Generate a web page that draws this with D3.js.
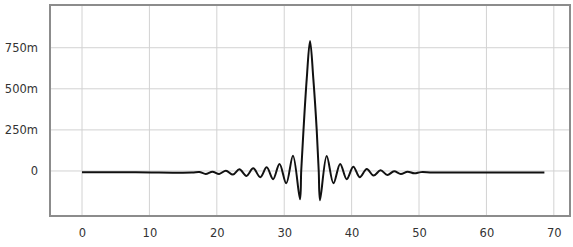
<!DOCTYPE html>
<html>
<head>
<meta charset="utf-8">
<script src="https://cdn.jsdelivr.net/npm/d3@7"></script>
<style>
  body { margin: 0; background: #fff; }
  svg text { font-family: "DejaVu Sans", sans-serif; font-size: 11.5px; fill: #333; }
</style>
</head>
<body>
<svg width="573" height="247"></svg>
<script>
//## DATA ##
const xTicks = [0, 10, 20, 30, 40, 50, 60, 70]
const yTicks = [0, 0.25, 0.5, 0.75]
// sample points of the waveform: x position and value (in m units, /1000 below)
const waveX = [0, 8, 16.3, 17.4, 18.35, 19.35, 20.35, 21.35, 22.4, 23.35, 24.4, 25.4, 26.45, 27.4, 28.35, 29.3, 30.3, 31.3,
  32.34, 32.52, 32.86, 33.34, 33.83, 34.32, 34.82, 35.12, 35.31,
  36.3, 37.3, 38.3, 39.27, 40.25, 41.2, 42.25, 43.25, 44.3, 45.3, 46.3, 47.3, 48.3, 49.3, 50.3, 52, 60, 68.6]
const waveY = [-8, -8, -10, -6, -18, -4, -18, 2, -22, 10, -30, 16, -38, 22, -50, 43, -75, 93,
  -172, 0, 250, 560, 791, 560, 250, 0, -178,
  91, -75, 43, -50, 26, -38, 12, -28, 4, -24, -2, -18, -4, -14, -7, -9, -9, -9]

//## SETUP ##
const svg = d3.select('svg')
const frame = { left: 50, right: 570, top: 5, bottom: 216 }

const scaleX = d3.scaleLinear()
  .domain([-4.75, 72.4])
  .range([frame.left, frame.right])

const scaleY = d3.scaleLinear()
  .domain([-0.274, 1.01])
  .range([frame.bottom, frame.top])

const data = waveX.map((x, i) => ({ x: x, y: waveY[i] / 1000 }))

//## GRID ##
const g = svg.append('g')

g.selectAll('.vgrid').data(xTicks)
  .enter().append('line')
  .attr('class', 'vgrid')
  .attr('x1', d => scaleX(d)).attr('x2', d => scaleX(d))
  .attr('y1', frame.top).attr('y2', frame.bottom)
  .attr('stroke', '#d2d2d2')
  .attr('stroke-width', 1)

g.selectAll('.hgrid').data(yTicks)
  .enter().append('line')
  .attr('class', 'hgrid')
  .attr('x1', frame.left).attr('x2', frame.right)
  .attr('y1', d => scaleY(d)).attr('y2', d => scaleY(d))
  .attr('stroke', '#d2d2d2')
  .attr('stroke-width', 1)

//## AXES ##
const xAxis = d3.axisBottom(scaleX).tickValues(xTicks).tickSize(0).tickPadding(12)
const yAxis = d3.axisLeft(scaleY).tickValues(yTicks).tickSize(0).tickPadding(12).tickFormat(d3.format('~s'))

const xAxisGroup = svg.append('g')
  .attr('transform', 'translate(0,' + frame.bottom + ')')
  .call(xAxis)
xAxisGroup.select('.domain').remove()
xAxisGroup.selectAll('text').attr('fill', '#333').attr('y', 13)

const yAxisGroup = svg.append('g')
  .attr('transform', 'translate(' + frame.left + ',0)')
  .call(yAxis)
yAxisGroup.select('.domain').remove()
yAxisGroup.selectAll('text').attr('fill', '#333').attr('x', -12)

//## LINE ##
const line = d3.line()
  .x(d => scaleX(d.x))
  .y(d => scaleY(d.y))
  .curve(d3.curveCatmullRom.alpha(0.5))

svg.append('path')
  .datum(data)
  .attr('d', line)
  .attr('fill', 'none')
  .attr('stroke', '#111')
  .attr('stroke-width', 2)
  .attr('stroke-linejoin', 'round')

//## FRAME ##
svg.append('rect')
  .attr('x', frame.left).attr('y', frame.top)
  .attr('width', frame.right - frame.left)
  .attr('height', frame.bottom - frame.top)
  .attr('fill', 'none')
  .attr('stroke', '#8c8c8c')
  .attr('stroke-width', 2)
</script>
</body>
</html>
